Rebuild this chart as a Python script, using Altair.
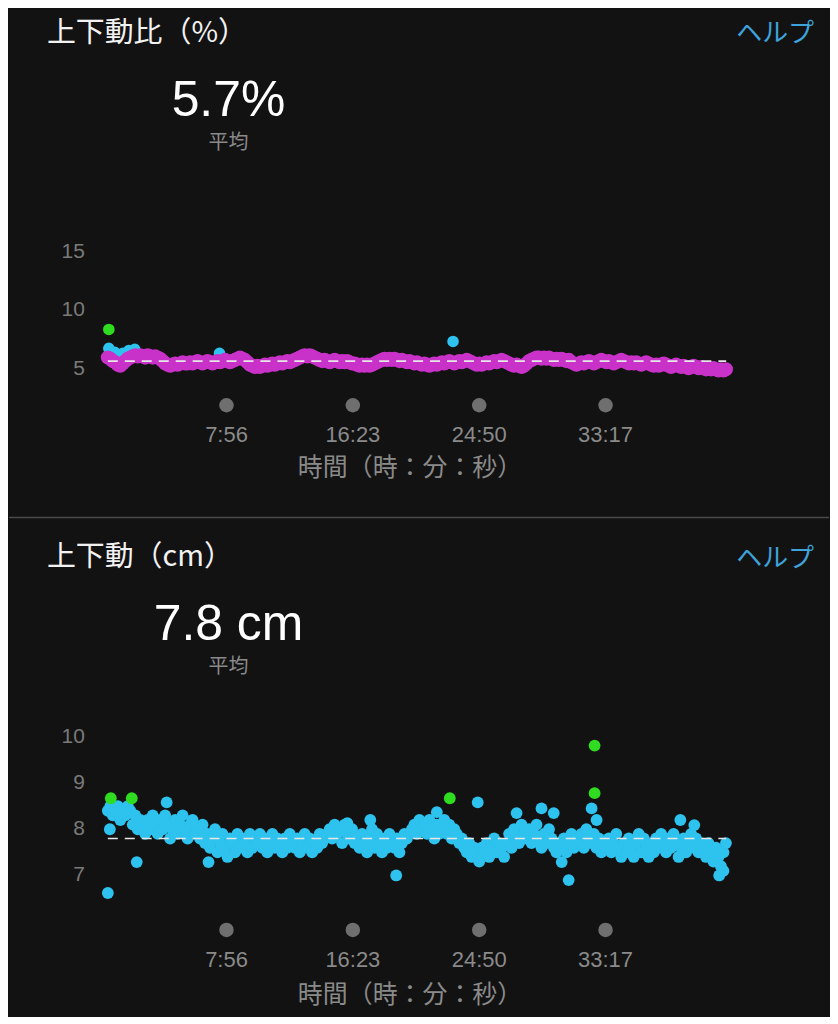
import altair as alt
import pandas as pd

STEP = 10  # recording interval in seconds

# ---- 上下動比 (%) ----
ratio_main = [
    6.0, 5.9, 5.7, 5.6, 5.4, 5.3, 5.5, 5.7, 5.9, 6.0,
    6.1, 6.2, 6.1, 6.2, 6.1, 6.0, 6.2, 6.1, 6.0, 6.1,
    6.0, 5.9, 5.7, 5.5, 5.4, 5.3, 5.4, 5.5, 5.4, 5.5,
    5.6, 5.5, 5.5, 5.6, 5.5, 5.6, 5.7, 5.6, 5.5, 5.6,
    5.7, 5.6, 5.5, 5.6, 5.7, 5.6, 5.7, 5.8, 5.7, 5.6,
    5.7, 5.8, 5.9, 6.0, 5.9, 5.8, 5.6, 5.4, 5.3, 5.2,
    5.3, 5.2, 5.3, 5.4, 5.3, 5.4, 5.5, 5.4, 5.5, 5.6,
    5.5, 5.6, 5.7, 5.6, 5.7, 5.8, 5.9, 6.0, 6.1, 6.2,
    6.1, 6.2, 6.1, 6.0, 5.9, 5.8, 5.7, 5.8, 5.7, 5.6,
    5.7, 5.8, 5.7, 5.6, 5.7, 5.6, 5.7, 5.6, 5.5, 5.5,
    5.4, 5.3, 5.4, 5.3, 5.4, 5.3, 5.4, 5.5, 5.6, 5.7,
    5.8, 5.9, 5.8, 5.9, 5.8, 5.9, 5.8, 5.7, 5.8, 5.7,
    5.6, 5.7, 5.6, 5.5, 5.6, 5.5, 5.4, 5.5, 5.4, 5.3,
    5.4, 5.5, 5.4, 5.5, 5.6, 5.5, 5.6, 5.7, 5.6, 5.5,
    5.6, 5.7, 5.6, 5.7, 5.8, 5.7, 5.6, 5.5, 5.4, 5.5,
    5.4, 5.5, 5.6, 5.5, 5.6, 5.7, 5.6, 5.7, 5.8, 5.7,
    5.6, 5.5, 5.4, 5.3, 5.4, 5.3, 5.2, 5.3, 5.5, 5.7,
    5.8, 5.9, 6.0, 6.0, 5.9, 6.0, 5.9, 6.0, 5.9, 5.8,
    5.9, 5.8, 5.9, 5.8, 5.7, 5.8, 5.6, 5.5, 5.4, 5.5,
    5.6, 5.5, 5.6, 5.7, 5.6, 5.5, 5.6, 5.7, 5.8, 5.7,
    5.6, 5.7, 5.6, 5.5, 5.6, 5.7, 5.8, 5.7, 5.6, 5.5,
    5.6, 5.5, 5.6, 5.5, 5.4, 5.5, 5.6, 5.5, 5.4, 5.3,
    5.4, 5.3, 5.4, 5.5, 5.4, 5.3, 5.2, 5.3, 5.4, 5.3,
    5.2, 5.3, 5.2, 5.1, 5.2, 5.3, 5.2, 5.1, 5.2, 5.1,
    5.0, 5.1, 5.0, 5.1, 5.0, 4.9, 5.0, 4.9, 5.0,
]
ratio_blue_t = [4, 28, 60, 84, 108, 448, 1385]
ratio_blue_v = [6.78, 6.44, 6.36, 6.6, 6.7, 6.36, 7.37]
ratio_green_t = [4]
ratio_green_v = [8.39]
ratio_mean = 5.7
ratio_yticks = [5, 10, 15]

# ---- 上下動 (cm) ----
vo_main = [
    8.4, 8.5, 8.3, 8.4, 8.5, 8.2, 8.4, 8.3, 8.5, 8.4,
    8.1, 8.3, 8.0, 8.2, 8.1, 7.9, 8.2, 8.0, 8.3, 8.1,
    7.9, 8.2, 8.0, 8.3, 8.1, 7.8, 8.0, 8.2, 7.9, 8.1,
    8.3, 8.0, 7.8, 8.1, 8.2, 7.9, 8.0, 7.8, 8.1, 7.7,
    7.9, 7.6, 7.8, 8.0, 7.5, 7.7, 7.9, 7.6, 7.4, 7.8,
    7.7, 7.5, 7.9, 7.6, 7.8, 7.7, 7.5, 7.9, 7.6, 7.8,
    7.7, 7.9, 7.6, 7.8, 7.5, 7.7, 7.9, 7.6, 7.8, 7.7,
    7.5, 7.8, 7.6, 7.9, 7.7, 7.6, 7.8, 7.5, 7.7, 7.9,
    7.6, 7.8, 7.5, 7.7, 7.6, 7.9, 7.7, 7.8, 7.9, 8.0,
    7.8, 8.1, 7.9, 8.0, 7.7, 8.1, 7.9, 7.8, 8.0, 7.7,
    7.8, 7.6, 7.9, 7.7, 7.5, 7.8, 8.0, 7.6, 7.9, 7.7,
    7.5, 7.8, 7.6, 7.9, 7.7, 7.6, 7.8, 7.5, 7.7, 7.9,
    7.8, 7.9, 8.0, 8.1, 7.9, 8.2, 8.0, 8.1, 7.9, 8.2,
    8.0, 7.8, 8.1, 7.9, 8.0, 8.2, 7.9, 8.1, 7.8, 8.0,
    7.9, 7.7, 7.8, 7.6, 7.5, 7.7, 7.4, 7.6, 7.5, 7.3,
    7.6, 7.5, 7.7, 7.4, 7.6, 7.8, 7.5, 7.7, 7.6, 7.4,
    7.7, 7.9, 7.6, 8.0, 7.8, 7.7, 8.1, 7.9, 7.8, 8.0,
    7.7, 7.9, 8.1, 7.8, 7.6, 7.9, 7.7, 8.0, 7.8, 7.6,
    7.5, 7.7, 7.6, 7.8, 7.5, 7.7, 7.9, 7.6, 7.8, 7.7,
    7.9, 7.6, 8.0, 7.8, 7.7, 7.9, 7.6, 7.8, 7.5, 7.7,
    7.6, 7.8, 7.5, 7.7, 7.9, 7.6, 7.4, 7.7, 7.5, 7.8,
    7.6, 7.4, 7.7, 7.9, 7.5, 7.8, 7.6, 7.4, 7.7, 7.5,
    7.8, 7.6, 7.9, 7.7, 7.5, 7.8, 7.6, 7.9, 7.7, 7.4,
    7.6, 7.8, 7.5, 7.7, 7.9, 7.6, 7.8, 7.5, 7.7, 7.6,
    7.4, 7.7, 7.5, 7.3, 7.6, 7.4, 7.2, 7.5, 7.7,
]
vo_blue_t = [0, 8, 116, 236, 404, 961, 1053, 1157, 1320, 1484, 1640, 1740,
             1789, 1821, 1849, 1941, 1961, 2297, 2353, 2453, 2470]
vo_blue_v = [6.62, 8.0, 7.29, 8.58, 7.29, 8.13, 8.2, 7.0, 8.37, 8.58, 8.35, 8.45,
             8.35, 7.29, 6.9, 8.45, 8.2, 8.2, 8.09, 7.0, 7.1]
vo_green_t = [12, 96, 1372, 1953, 1953]
vo_green_v = [8.67, 8.67, 8.67, 8.78, 9.81]
vo_mean = 7.8
vo_yticks = [7, 8, 9, 10]

tick_secs = [476, 983, 1490, 1997]
tick_labels = ["7:56", "16:23", "24:50", "33:17"]
END_T = 2481

BG = "#121212"
MAGENTA = "#c932c9"
BLUE = "#2ec2ee"
GREEN = "#2fdc1f"
GREY = "#8a8a8a"
HELP = "#3fa2db"
CJK = "Noto Sans CJK JP"
LAT = "Liberation Sans"

W = 822
xscale = alt.Scale(domain=[-396.6, 2893.5], nice=False, zero=False)


def pts(t, v):
    return pd.DataFrame({"t": t, "v": v})


def panel(h, ydom, point_sets, mean, yticks, title, big, ys, separator):
    yscale = alt.Scale(domain=ydom, nice=False, zero=False)
    layers = []
    if separator:
        layers.append(
            alt.Chart(pd.DataFrame({"a": [0]})).mark_rule(color="#4a4a4a", strokeWidth=1.5)
            .encode(x=alt.value(0), x2=alt.value(W), y=alt.value(0.5))
        )
    for df, color, size in point_sets:
        layers.append(
            alt.Chart(df).mark_circle(color=color, size=size, opacity=1)
            .encode(x=alt.X("t:Q", scale=xscale, axis=None),
                    y=alt.Y("v:Q", scale=yscale, axis=None))
        )
    layers.append(
        alt.Chart(pd.DataFrame({"t": [0], "t2": [END_T], "v": [mean]}))
        .mark_rule(color="#e6e6e6", strokeWidth=1.6, strokeDash=[10, 7])
        .encode(x=alt.X("t:Q", scale=xscale, axis=None), x2="t2:Q",
                y=alt.Y("v:Q", scale=yscale, axis=None))
    )
    # y tick labels
    layers.append(
        alt.Chart(pd.DataFrame({"v": yticks}))
        .mark_text(align="right", baseline="middle", font=LAT, fontSize=21, color="#7a7a7a")
        .encode(x=alt.value(76), y=alt.Y("v:Q", scale=yscale, axis=None),
                text=alt.Text("v:Q", format="d"))
    )
    # x tick dots and labels
    tdf = pd.DataFrame({"t": tick_secs, "lab": tick_labels})
    layers.append(
        alt.Chart(tdf).mark_circle(color="#6f6f6f", size=210, opacity=1)
        .encode(x=alt.X("t:Q", scale=xscale, axis=None), y=alt.value(ys["dot"]))
    )
    layers.append(
        alt.Chart(tdf).mark_text(align="center", baseline="alphabetic", font=LAT,
                                 fontSize=22, color=GREY)
        .encode(x=alt.X("t:Q", scale=xscale, axis=None), y=alt.value(ys["lab"]), text="lab:N")
    )
    # texts
    def txt(s, x, y, size, color, align, font, baseline="middle"):
        return (alt.Chart(pd.DataFrame({"s": [s]}))
                .mark_text(align=align, baseline=baseline, font=font, fontSize=size, color=color)
                .encode(x=alt.value(x), y=alt.value(y), text="s:N"))
    layers.append(txt(title, 38, ys["title"], 29, "#f2f2f2", "left", CJK))
    layers.append(txt("ヘルプ", 807, ys["help"], 26, HELP, "right", CJK))
    layers.append(txt(big, 220, ys["big"], 50, "#ffffff", "center", LAT, "alphabetic"))
    layers.append(txt("平均", 220, ys["avg"], 20, GREY, "center", CJK))
    layers.append(txt("時間（時：分：秒）", 402, ys["axt"], 25, GREY, "center", CJK))
    return alt.layer(*layers).properties(width=W, height=h)


ratio_t = [i * STEP for i in range(len(ratio_main))]
vo_t = [i * STEP for i in range(len(vo_main))]

top = panel(
    508, [-7.458, 35.593],
    [(pts(ratio_blue_t, ratio_blue_v), BLUE, 135),
     (pts(ratio_green_t, ratio_green_v), GREEN, 135),
     (pts(ratio_t, ratio_main), MAGENTA, 200)],
    ratio_mean, ratio_yticks, "上下動比（%）", "5.7%",
    {"title": 24, "help": 25, "big": 107, "avg": 134, "dot": 397, "lab": 434, "axt": 460},
    False,
)

bottom = panel(
    500, [3.964, 14.756],
    [(pts(vo_t, vo_main), BLUE, 140),
     (pts(vo_blue_t, vo_blue_v), BLUE, 140),
     (pts(vo_green_t, vo_green_v), GREEN, 140)],
    vo_mean, vo_yticks, "上下動（cm）", "7.8 cm",
    {"title": 40, "help": 42, "big": 123, "avg": 150, "dot": 414, "lab": 451, "axt": 479},
    True,
)

chart = (
    alt.vconcat(top, bottom, spacing=0)
    .properties(padding=0, background=BG)
    .configure_view(stroke=None)
    .configure_concat(spacing=0)
)

chart.save("out.html", embed_options={"renderer": "svg", "actions": False})
